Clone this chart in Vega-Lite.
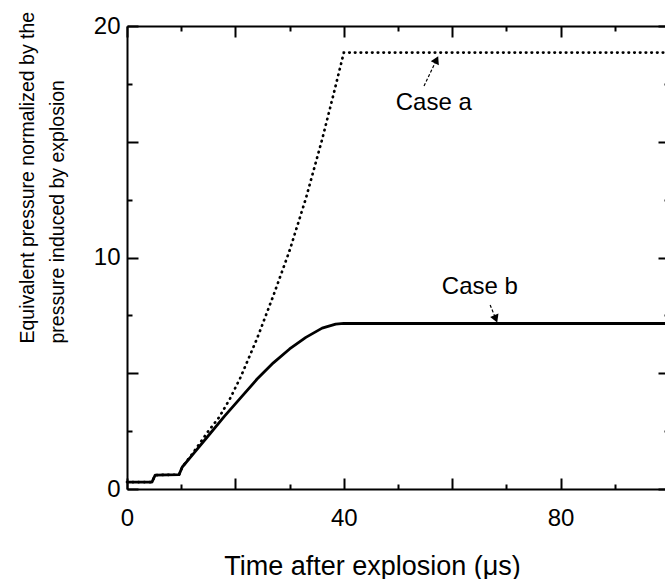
{
  "$schema": "https://vega.github.io/schema/vega-lite/v6.json",
  "width": 542,
  "height": 463,
  "autosize": {"type": "none"},
  "padding": {"left": 127, "top": 26, "right": -4, "bottom": 90},
  "background": "white",
  "config": {
    "view": {"stroke": null},
    "font": "Liberation Sans",
    "axis": {
      "domainColor": "black",
      "domainWidth": 2,
      "tickColor": "black",
      "tickWidth": 2,
      "grid": false,
      "labelColor": "black",
      "labelFont": "Liberation Sans",
      "labelFontSize": 24,
      "titleColor": "black",
      "titleFont": "Liberation Sans",
      "titleFontWeight": "normal"
    }
  },
  "datasets": {
    "curves": [
      {"case": "a", "t": 0, "p": 0.3},
      {"case": "a", "t": 4.6, "p": 0.3},
      {"case": "a", "t": 5.2, "p": 0.6},
      {"case": "a", "t": 9.6, "p": 0.62},
      {"case": "a", "t": 10.2, "p": 0.95},
      {"case": "a", "t": 12, "p": 1.5},
      {"case": "a", "t": 15, "p": 2.5},
      {"case": "a", "t": 17, "p": 3.1},
      {"case": "a", "t": 19, "p": 3.9},
      {"case": "a", "t": 21, "p": 4.85},
      {"case": "a", "t": 24, "p": 6.5},
      {"case": "a", "t": 27, "p": 8.35},
      {"case": "a", "t": 30, "p": 10.3},
      {"case": "a", "t": 33, "p": 12.55},
      {"case": "a", "t": 36, "p": 15.1},
      {"case": "a", "t": 38, "p": 16.95},
      {"case": "a", "t": 40, "p": 18.85},
      {"case": "a", "t": 100, "p": 18.85},
      {"case": "b", "t": 0, "p": 0.3},
      {"case": "b", "t": 4.6, "p": 0.3},
      {"case": "b", "t": 5.2, "p": 0.6},
      {"case": "b", "t": 9.6, "p": 0.62},
      {"case": "b", "t": 10.2, "p": 0.95},
      {"case": "b", "t": 12, "p": 1.45},
      {"case": "b", "t": 15, "p": 2.3},
      {"case": "b", "t": 18, "p": 3.15},
      {"case": "b", "t": 21, "p": 3.95},
      {"case": "b", "t": 24, "p": 4.75},
      {"case": "b", "t": 27, "p": 5.45},
      {"case": "b", "t": 30, "p": 6.05},
      {"case": "b", "t": 33, "p": 6.55},
      {"case": "b", "t": 36, "p": 6.95},
      {"case": "b", "t": 38.5, "p": 7.12},
      {"case": "b", "t": 40, "p": 7.15},
      {"case": "b", "t": 100, "p": 7.15}
    ],
    "notes": [
      {"case": "a", "label": "Case a", "t": 56.6, "p": 16.67},
      {"case": "b", "label": "Case b", "t": 65.1, "p": 8.73}
    ],
    "pointers": [
      {"case": "a", "t0": 54.8, "p0": 17.41, "t1": 57.0, "p1": 18.49},
      {"case": "b", "t0": 67.0, "p0": 7.95, "t1": 67.95, "p1": 7.4}
    ]
  },
  "resolve": {"axis": {"x": "independent", "y": "independent"}},
  "layer": [
    {
      "data": {"name": "curves"},
      "transform": [{"filter": "datum.case === 'b'"}],
      "mark": {"type": "line", "color": "black", "strokeWidth": 2.8, "strokeJoin": "round"},
      "encoding": {
        "x": {
          "field": "t", "type": "quantitative",
          "scale": {"domain": [0, 100], "nice": false, "zero": false},
          "axis": {
            "orient": "bottom",
            "title": "Time after explosion (μs)",
            "titleFontSize": 27,
            "titleAnchor": "start",
            "titleAlign": "center",
            "titleBaseline": "alphabetic",
            "titleX": 245,
            "titleY": 85,
            "values": [0, 10, 20, 30, 40, 50, 60, 70, 80, 90, 100],
            "tickSize": {"condition": {"test": "datum.value % 20 === 0", "value": -11}, "value": -5},
            "labelExpr": "datum.value % 40 === 0 ? datum.label : ''",
            "labelPadding": 28,
            "labelFlush": false,
            "labelOverlap": false
          }
        },
        "y": {
          "field": "p", "type": "quantitative",
          "scale": {"domain": [0, 20], "nice": false, "zero": false},
          "axis": {
            "orient": "left",
            "title": ["Equivalent pressure  normalized by the", "pressure induced by explosion"],
            "titleFontSize": 19.5,
            "titleAngle": -90,
            "titleAlign": "left",
            "titleAnchor": "start",
            "titleBaseline": "top",
            "titleLineHeight": 30,
            "titleX": -109,
            "titleY": 317,
            "values": [0, 2.5, 5, 7.5, 10, 12.5, 15, 17.5, 20],
            "tickSize": {"condition": {"test": "datum.value % 5 === 0", "value": -11}, "value": -5},
            "labelExpr": "datum.value % 10 === 0 ? datum.label : ''",
            "labelPadding": 18,
            "labelOverlap": false,
            "labelFlush": false
          }
        }
      }
    },
    {
      "data": {"name": "curves"},
      "transform": [{"filter": "datum.case === 'a'"}],
      "mark": {"type": "line", "color": "black", "strokeWidth": 2.7, "strokeCap": "round", "strokeDash": [0.5, 5.2]},
      "encoding": {
        "x": {
          "field": "t", "type": "quantitative",
          "axis": {
            "orient": "top",
            "title": null,
            "labels": false,
            "values": [0, 10, 20, 30, 40, 50, 60, 70, 80, 90, 100],
            "tickSize": {"condition": {"test": "datum.value % 20 === 0", "value": -11}, "value": -5}
          }
        },
        "y": {
          "field": "p", "type": "quantitative",
          "axis": {
            "orient": "right",
            "title": null,
            "labels": false,
            "values": [0, 2.5, 5, 7.5, 10, 12.5, 15, 17.5, 20],
            "tickSize": {"condition": {"test": "datum.value % 5 === 0", "value": -11}, "value": -5}
          }
        }
      }
    },
    {
      "data": {"name": "notes"},
      "mark": {"type": "text", "fontSize": 24, "font": "Liberation Sans", "color": "black", "align": "center", "baseline": "middle"},
      "encoding": {
        "x": {"field": "t", "type": "quantitative", "axis": null},
        "y": {"field": "p", "type": "quantitative", "axis": null},
        "text": {"field": "label"}
      }
    },
    {
      "data": {"name": "pointers"},
      "mark": {"type": "rule", "color": "black", "strokeWidth": 1.2, "strokeDash": [3, 2]},
      "encoding": {
        "x": {"field": "t0", "type": "quantitative", "axis": null},
        "y": {"field": "p0", "type": "quantitative", "axis": null},
        "x2": {"field": "t1"},
        "y2": {"field": "p1"}
      }
    },
    {
      "data": {"name": "pointers"},
      "transform": [{"filter": "datum.case === 'a'"}],
      "mark": {"type": "point", "shape": "triangle", "filled": true, "color": "black", "opacity": 1, "size": 80, "angle": 26},
      "encoding": {
        "x": {"field": "t1", "type": "quantitative", "axis": null},
        "y": {"field": "p1", "type": "quantitative", "axis": null}
      }
    },
    {
      "data": {"name": "pointers"},
      "transform": [{"filter": "datum.case === 'b'"}],
      "mark": {"type": "point", "shape": "triangle", "filled": true, "color": "black", "opacity": 1, "size": 80, "angle": 158},
      "encoding": {
        "x": {"field": "t1", "type": "quantitative", "axis": null},
        "y": {"field": "p1", "type": "quantitative", "axis": null}
      }
    }
  ]
}
